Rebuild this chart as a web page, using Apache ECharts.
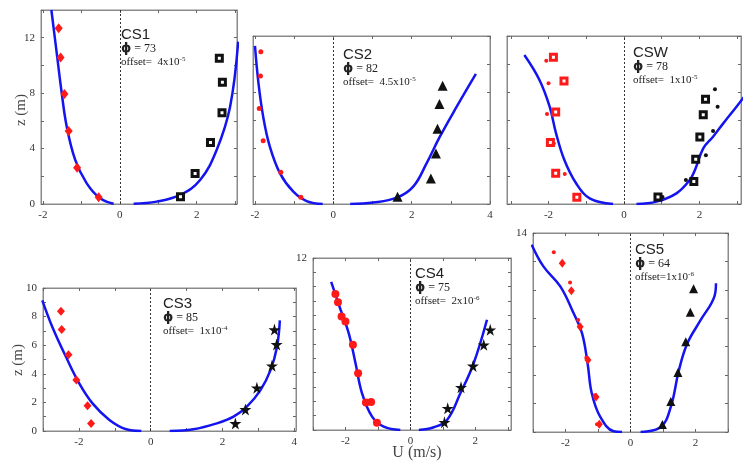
<!DOCTYPE html>
<html><head><meta charset="utf-8">
<script src="https://cdn.jsdelivr.net/npm/echarts@6/dist/echarts.min.js"></script>
<style>html,body{margin:0;padding:0;background:#fff}#c{width:747px;height:465px}</style>
</head><body><div id="c"></div>
<script>
// ---------- DATA (U in m/s, z in m) ----------
// CS1
const cs1BlueLeft  = [[-1.78,14.0],[-1.65,11.11],[-1.51,7.99],[-1.38,5.58],[-1.16,3.18],[-0.86,1.49],[-0.51,0.41],[-0.16,0.02]];
const cs1BlueRight = [[0.36,0.02],[0.96,0.17],[1.57,0.65],[2.09,1.73],[2.52,3.9],[2.87,7.02],[3.08,11.72]];
const cs1Red   = [[-1.59,12.68],[-1.54,10.58],[-1.44,7.94],[-1.33,5.27],[-1.11,2.62],[-0.55,0.48]];
const cs1Black = [[2.59,10.51],[2.67,8.78],[2.66,6.59],[2.36,4.43],[1.96,2.21],[1.58,0.53]];
// CS2
const cs2BlueLeft  = [[-2.0,11.29],[-1.91,8.62],[-1.79,6.24],[-1.62,4.1],[-1.36,2.19],[-1.02,0.88],[-0.68,0.21],[-0.27,0.0]];
const cs2BlueRight = [[0.43,0.0],[1.02,0.1],[1.62,0.45],[2.04,1.24],[2.38,2.9],[2.72,4.81],[3.15,6.95],[3.64,9.29]];
const cs2Red   = [[-1.85,10.88],[-1.86,9.14],[-1.89,6.83],[-1.79,4.52],[-1.34,2.26],[-0.83,0.48]];
const cs2Black = [[2.79,8.45],[2.71,7.14],[2.66,5.38],[2.62,3.6],[2.49,1.83],[1.64,0.52]];
// CSW
const cswBlueLeft  = [[-2.64,10.64],[-2.24,8.86],[-1.97,6.95],[-1.8,5.05],[-1.58,3.14],[-1.27,1.48],[-0.91,0.4],[-0.29,0.0]];
const cswBlueRight = [[0.33,0.0],[0.86,0.17],[1.39,0.76],[1.74,1.71],[1.88,2.43],[2.1,3.98],[2.36,4.81],[2.63,5.76],[2.98,6.95],[3.25,7.9]];
const cswRedSq  = [[-1.87,10.48],[-1.59,8.79],[-1.81,6.57],[-1.95,4.4],[-1.81,2.19],[-1.25,0.48]];
const cswRedDot = [[-2.06,10.24],[-2.0,8.62],[-2.04,6.43],[-1.86,4.33],[-1.57,2.14]];
const cswBlackSq  = [[2.16,7.48],[2.1,6.38],[2.01,4.79],[1.9,3.19],[1.85,1.6],[0.9,0.5]];
const cswBlackDot = [[2.41,8.19],[2.48,6.95],[2.36,5.21],[2.17,3.48],[1.64,1.71],[1.02,0.5]];
// CS3
const cs3BlueLeft  = [[-3.02,9.14],[-2.74,7.28],[-2.36,5.19],[-1.99,3.33],[-1.62,1.93],[-1.15,0.77],[-0.68,0.12],[-0.26,0.0]];
const cs3BlueRight = [[0.53,0.0],[1.19,0.12],[1.84,0.53],[2.31,1.0],[2.68,1.7],[3.06,2.86],[3.34,4.26],[3.52,5.88],[3.6,7.74]];
const cs3Red   = [[-2.5,8.37],[-2.48,7.09],[-2.29,5.33],[-2.07,3.56],[-1.76,1.77],[-1.66,0.53]];
const cs3Black = [[3.45,7.09],[3.51,6.05],[3.38,4.56],[2.96,3.02],[2.64,1.51],[2.36,0.53]];
// CS4
const cs4BlueLeft  = [[-2.44,10.34],[-2.15,8.39],[-1.9,6.76],[-1.69,4.66],[-1.49,2.56],[-1.18,0.93],[-0.82,0.23],[-0.31,0.0]];
const cs4BlueRight = [[0.26,0.0],[0.72,0.19],[1.13,0.7],[1.54,2.56],[1.95,4.66],[2.36,7.69]];
const cs4Red   = [[-2.31,9.48],[-2.23,8.92],[-2.12,7.92],[-2.0,7.57],[-1.77,5.94],[-1.61,3.96],[-1.37,1.91],[-1.21,1.96],[-1.03,0.51]];
const cs4Black = [[2.46,6.99],[2.26,5.94],[1.93,4.47],[1.56,2.98],[1.15,1.51],[1.05,0.54]];
// CS5
const cs5BlueLeft  = [[-3.04,13.18],[-2.68,11.65],[-2.16,10.24],[-1.75,8.35],[-1.49,6.94],[-1.32,4.82],[-1.19,2.71],[-0.93,1.06],[-0.52,0.05],[-0.26,0.0]];
const cs5BlueRight = [[0.31,0.0],[0.93,0.35],[1.24,1.76],[1.49,4.35],[1.75,6.24],[2.16,7.88],[2.58,9.53],[2.63,10.47]];
const cs5Red    = [[-2.1,11.88],[-1.82,9.93],[-1.55,7.41],[-1.31,5.06],[-1.06,2.47],[-0.96,0.54]];
const cs5RedDot = [[-2.36,12.64],[-1.86,10.52],[-1.61,7.88],[-1.36,5.22],[-1.1,2.59],[-1.03,0.54]];
const cs5Black  = [[1.94,10.07],[1.84,8.42],[1.7,6.35],[1.46,4.19],[1.24,2.14],[0.98,0.52]];

// tick labels
const cs1XLabels = [-2,0,2],   cs1YLabels = [0,4,8,12];
const cs2XLabels = [-2,0,2,4], cs2YLabels = [];
const cswXLabels = [-2,0,2],   cswYLabels = [];
const cs3XLabels = [-2,0,2,4], cs3YLabels = [0,2,4,6,8,10];
const cs4XLabels = [-2,0,2],   cs4YLabels = [12];
const cs5XLabels = [-2,0,2],   cs5YLabels = [14];

const names   = ['CS1','CS2','CSW','CS3','CS4','CS5'];
const phis    = ['73','82','78','85','75','64'];
const offsets = [['=  4x10','-5'],['=  4.5x10','-5'],['=  1x10','-5'],['=  1x10','-4'],['=  2x10','-6'],['=1x10','-6']];

// ---------- LAYOUT ----------
const BLUE = '#1414f0', RED = '#ff1a1a', BLK = '#111';
const STAR = 'path://M50,0 L61,35 L98,35 L68,57 L79,91 L50,70 L21,91 L32,57 L2,35 L39,35 Z';
function range(a,b,s){const r=[];for(let v=a;v<=b+1e-9;v+=s)r.push(+v.toFixed(4));return r;}
const panels = [
 {box:[41,10,196,194],  x:[-2.05,3.05], y:[0,14], xt:range(-2,3,1), yt:range(0,14,2), xl:cs1XLabels, yl:cs1YLabels, t:[121,27]},
 {box:[253,36,237,168], x:[-2.05,4],    y:[0,12], xt:range(-2,4,1), yt:range(0,12,2), xl:cs2XLabels, yl:cs2YLabels, t:[343,47]},
 {box:[507,36,234,168], x:[-3.1,3.1],   y:[0,12], xt:range(-3,3,1), yt:range(0,12,2), xl:cswXLabels, yl:cswYLabels, t:[633,45]},
 {box:[43,288,253,143], x:[-3,4.05],    y:[0,10], xt:range(-3,4,1), yt:range(0,10,1), xl:cs3XLabels, yl:cs3YLabels, t:[163,296]},
 {box:[313,258,198,172],x:[-3,3.1],     y:[0,12], xt:range(-3,3,1), yt:range(0,12,1), xl:cs4XLabels, yl:cs4YLabels, t:[415,266]},
 {box:[533,233,195,199],x:[-3,3],       y:[0,14], xt:range(-3,3,1), yt:range(0,14,2), xl:cs5XLabels, yl:cs5YLabels, t:[635,242]}
];

const grid=[], xAxis=[], yAxis=[], series=[], graphic=[];
const AX = '#8a8a8a';
const lblStyle = {color:'#333', fontFamily:'Liberation Serif, serif', fontSize:11};
panels.forEach((p,i)=>{
  grid.push({left:p.box[0], top:p.box[1], width:p.box[2], height:p.box[3], show:true, borderColor:AX, borderWidth:1, containLabel:false});
  const mk = (pos, vals, labs, isX) => ({
    type:'value', gridIndex:i, position:pos, min:isX?p.x[0]:p.y[0], max:isX?p.x[1]:p.y[1],
    axisLine:{show:true, onZero:false, lineStyle:{color:AX,width:1}},
    axisTick:{show:true, inside:true, length:3, lineStyle:{color:'#666'}, customValues:vals},
    axisLabel:{show:labs.length>0, customValues:labs, margin:6, ...lblStyle, showMinLabel:true, showMaxLabel:true},
    splitLine:{show:false}
  });
  xAxis.push(mk('bottom', p.xt, p.xl, true));
  xAxis.push(mk('top', p.xt, [], true));
  yAxis.push(mk('left', p.yt, p.yl, false));
  yAxis.push(mk('right', p.yt, [], false));
  const tx=p.t[0], ty=p.t[1];
  graphic.push({type:'text', x:tx, y:ty, style:{text:names[i], font:'15px "Liberation Sans", Arial, sans-serif', fill:'#222', verticalAlign:'top'}});
  graphic.push({type:'text', x:tx, y:ty+15, style:{text:'{b|ϕ} = '+phis[i], font:'12px "Liberation Serif", serif', fill:'#222', verticalAlign:'top',
     rich:{b:{fontWeight:'bold', fontSize:13, fontFamily:'DejaVu Sans'}}}});
  graphic.push({type:'text', x:tx, y:ty+29, style:{text:'offset'+offsets[i][0]+'{s|'+offsets[i][1]+'}', font:'11px "Liberation Serif", serif', fill:'#222', verticalAlign:'top',
     rich:{s:{fontSize:7, fontFamily:'Liberation Serif', verticalAlign:'top', padding:[0,0,6,0]}}}});
});

function line(data, gi, mark){
  const s={type:'line', xAxisIndex:gi*2, yAxisIndex:gi*2, data, smooth:0.4, symbol:'none', showSymbol:false,
    lineStyle:{color:BLUE, width:2.5}, clip:true, z:3, animation:false};
  if(mark) s.markLine={silent:true, symbol:['none','none'], label:{show:false}, animation:false,
    lineStyle:{type:[2,2], color:'#333', width:1}, data:[{xAxis:0}]};
  return s;
}
function pts(data, gi, symbol, size, color, border, bw){
  return {type:'scatter', xAxisIndex:gi*2, yAxisIndex:gi*2, data, symbol, symbolSize:size, z:4, animation:false,
    itemStyle:{color, borderColor:border||color, borderWidth:bw||0, opacity:1}};
}
series.push(line(cs1BlueLeft,0,true), line(cs1BlueRight,0),
  pts(cs1Red,0,'diamond',[8,10],RED), pts(cs1Black,0,'rect',6,'#fff',BLK,3));
series.push(line(cs2BlueLeft,1,true), line(cs2BlueRight,1),
  pts(cs2Red,1,'circle',5,RED), pts(cs2Black,1,'triangle',10,BLK));
series.push(line(cswBlueLeft,2,true), line(cswBlueRight,2),
  pts(cswRedSq,2,'rect',6,'#fff',RED,3), pts(cswRedDot,2,'circle',4,RED),
  pts(cswBlackSq,2,'rect',6,'#fff',BLK,3), pts(cswBlackDot,2,'circle',4,BLK));
series.push(line(cs3BlueLeft,3,true), line(cs3BlueRight,3),
  pts(cs3Red,3,'diamond',[8,9],RED), pts(cs3Black,3,STAR,12,BLK));
series.push(line(cs4BlueLeft,4,true), line(cs4BlueRight,4),
  pts(cs4Red,4,'circle',8,RED), pts(cs4Black,4,STAR,12,BLK));
series.push(line(cs5BlueLeft,5,true), line(cs5BlueRight,5),
  pts(cs5RedDot,5,'circle',4,RED), pts(cs5Red,5,'diamond',[7,9],RED), pts(cs5Black,5,'triangle',9,BLK));

graphic.push({type:'text', x:21, y:110, rotation:Math.PI/2, style:{text:'z (m)', font:'15px "Liberation Serif", serif', fill:'#444', align:'center', verticalAlign:'middle'}});
graphic.push({type:'text', x:18, y:360, rotation:Math.PI/2, style:{text:'z (m)', font:'15px "Liberation Serif", serif', fill:'#444', align:'center', verticalAlign:'middle'}});
graphic.push({type:'text', x:417, y:453, style:{text:'U (m/s)', font:'16px "Liberation Serif", serif', fill:'#444', align:'center', verticalAlign:'middle'}});

const chart = echarts.init(document.getElementById('c'), null, {renderer:'canvas'});
chart.setOption({animation:false, backgroundColor:'#fff', grid, xAxis, yAxis, series, graphic});
</script></body></html>
